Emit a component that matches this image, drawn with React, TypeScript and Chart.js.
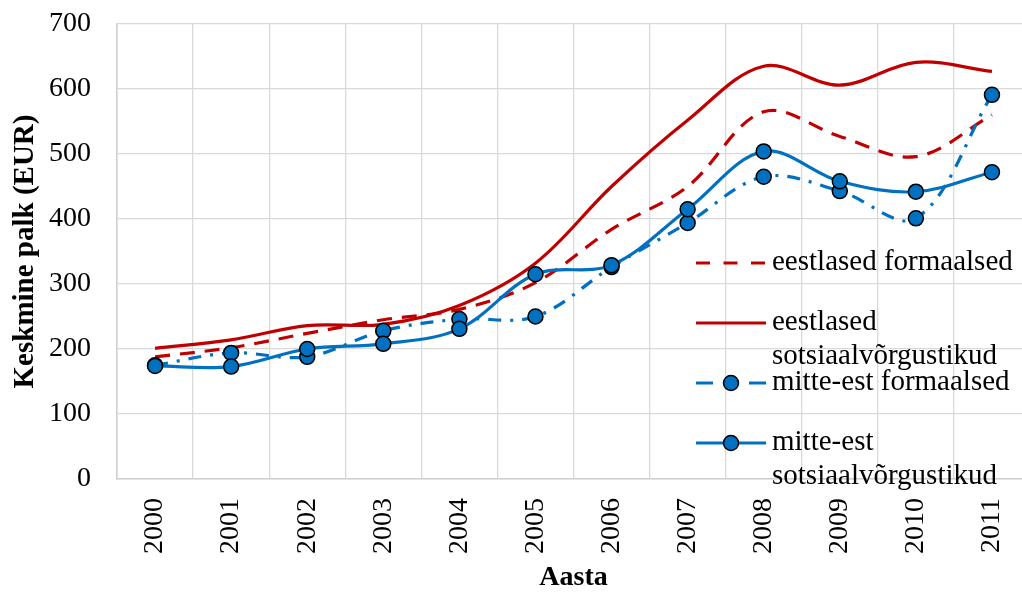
import React, { useEffect, useRef } from "react";
import { Chart, registerables } from "chart.js";

Chart.register(...registerables);

const years = ["2000", "2001", "2002", "2003", "2004", "2005", "2006", "2007", "2008", "2009", "2010", "2011"];
const eestFormaalsed = [188, 202, 224, 245, 261, 302, 384, 450, 565, 527, 496, 560];
const eestSotsiaal = [201, 214, 236, 238, 267, 332, 450, 552, 635, 606, 641, 627];
const mitteFormaalsed = [175, 194, 188, 228, 246, 250, 326, 394, 465, 443, 401, 591];
const mitteSotsiaal = [174, 173, 200, 208, 231, 315, 329, 415, 504, 458, 442, 472];

const labelEestFormaalsed = ["eestlased formaalsed"];
const labelEestSotsiaal = ["eestlased", "sotsiaalvõrgustikud"];
const labelMitteFormaalsed = ["mitte-est formaalsed"];
const labelMitteSotsiaal = ["mitte-est", "sotsiaalvõrgustikud"];

const yTitle = "Keskmine palk (EUR)";
const xTitle = "Aasta";

const RED = "#C00000";
const BLUE = "#0070C0";
const FONT = "'Liberation Serif', 'Times New Roman', serif";

const legendPlugin = {
  id: "customLegend",
  afterDatasetsDraw(chart: any) {
    const ctx = chart.ctx as CanvasRenderingContext2D;
    const startY = 263;
    const stepY = 60;
    const lineX0 = 696;
    const lineX1 = 766;
    const textX = 772;
    ctx.save();
    chart.data.datasets.forEach((ds: any, i: number) => {
      const y = startY + i * stepY;
      ctx.strokeStyle = ds.borderColor;
      ctx.lineWidth = ds.borderWidth;
      ctx.setLineDash(ds.legendDash || ds.borderDash || []);
      ctx.lineCap = "butt";
      ctx.beginPath();
      ctx.moveTo(lineX0, y);
      ctx.lineTo(lineX1, y);
      ctx.stroke();
      ctx.setLineDash([]);
      if (ds.pointRadius > 0) {
        ctx.beginPath();
        ctx.arc((lineX0 + lineX1) / 2, y, ds.pointRadius, 0, Math.PI * 2);
        ctx.fillStyle = ds.pointBackgroundColor;
        ctx.fill();
        ctx.lineWidth = ds.pointBorderWidth;
        ctx.strokeStyle = ds.pointBorderColor;
        ctx.stroke();
      }
      ctx.fillStyle = "#000";
      ctx.font = `29px ${FONT}`;
      ctx.textAlign = "left";
      ctx.textBaseline = "alphabetic";
      const lines: string[] = Array.isArray(ds.label) ? ds.label : [ds.label];
      lines.forEach((t, j) => {
        ctx.fillText(t, textX, y + 7 + j * 34);
      });
    });
    ctx.restore();
  },
};

export default function App() {
  const ref = useRef<HTMLCanvasElement>(null);

  useEffect(() => {
    const chart = new Chart(ref.current as HTMLCanvasElement, {
      type: "line",
      data: {
        labels: years,
        datasets: [
          {
            label: labelEestFormaalsed as any,
            data: eestFormaalsed,
            borderColor: RED,
            backgroundColor: RED,
            borderWidth: 3.2,
            borderDash: [15, 10],
            legendDash: [14, 13.5],
            pointRadius: 0,
            tension: 0.35,
            order: 2,
          } as any,
          {
            label: labelEestSotsiaal as any,
            data: eestSotsiaal,
            borderColor: RED,
            backgroundColor: RED,
            borderWidth: 3.2,
            pointRadius: 0,
            tension: 0.35,
            order: 3,
          } as any,
          {
            label: labelMitteFormaalsed as any,
            data: mitteFormaalsed,
            borderColor: BLUE,
            backgroundColor: BLUE,
            borderWidth: 3.2,
            borderDash: [13, 9, 3, 9],
            legendDash: [17, 36],
            pointRadius: 7.5,
            pointBackgroundColor: BLUE,
            pointBorderColor: "#000",
            pointBorderWidth: 1.5,
            tension: 0.35,
            order: 1,
          } as any,
          {
            label: labelMitteSotsiaal as any,
            data: mitteSotsiaal,
            borderColor: BLUE,
            backgroundColor: BLUE,
            borderWidth: 3.2,
            pointRadius: 7.5,
            pointBackgroundColor: BLUE,
            pointBorderColor: "#000",
            pointBorderWidth: 1.5,
            tension: 0.35,
            order: 0,
          } as any,
        ],
      },
      options: {
        responsive: false,
        animation: false,
        devicePixelRatio: 1,
        layout: { padding: { left: 0, right: 10, top: 24, bottom: 0 } },
        plugins: {
          legend: { display: false },
          tooltip: { enabled: false },
        },
        scales: {
          x: {
            type: "category",
            offset: true,
            grid: { offset: true, color: "#d9d9d9", lineWidth: 1.3, drawTicks: false },
            border: { display: true, color: "#d0d0d0", width: 1.5 },
            ticks: {
              minRotation: 90,
              maxRotation: 90,
              padding: 19,
              color: "#000",
              font: { family: FONT, size: 28 },
            },
            title: {
              display: true,
              text: xTitle,
              color: "#000",
              font: { family: FONT, size: 28, weight: "bold", lineHeight: 1 },
              padding: { top: 0, bottom: 0 },
            },
            afterFit: (scale: any) => {
              scale.height = 113;
              scale.paddingLeft = 0;
              scale.paddingRight = 0;
              scale.paddingTop = 0;
              scale.paddingBottom = 0;
            },
          },
          y: {
            min: 0,
            max: 700,
            ticks: {
              stepSize: 100,
              padding: 26,
              color: "#000",
              font: { family: FONT, size: 28 },
            },
            grid: { color: "#d9d9d9", lineWidth: 1.3, drawTicks: false },
            border: { display: true, color: "#d0d0d0", width: 1.5 },
            title: {
              display: true,
              text: yTitle,
              color: "#000",
              font: { family: FONT, size: 29, weight: "bold", lineHeight: 1 },
              padding: { top: 11, bottom: 0 },
            },
            afterFit: (scale: any) => {
              scale.width = 117;
              scale.paddingLeft = 0;
              scale.paddingRight = 0;
              scale.paddingTop = 0;
              scale.paddingBottom = 0;
            },
          },
        },
      } as any,
      plugins: [legendPlugin],
    });
    return () => chart.destroy();
  }, []);

  return (
    <div
      style={{
        position: "fixed",
        left: 0,
        top: 0,
        width: 1022,
        height: 592,
        overflow: "hidden",
        background: "#fff",
      }}
    >
      <canvas ref={ref} width={1040} height={592} style={{ display: "block" }} />
    </div>
  );
}
